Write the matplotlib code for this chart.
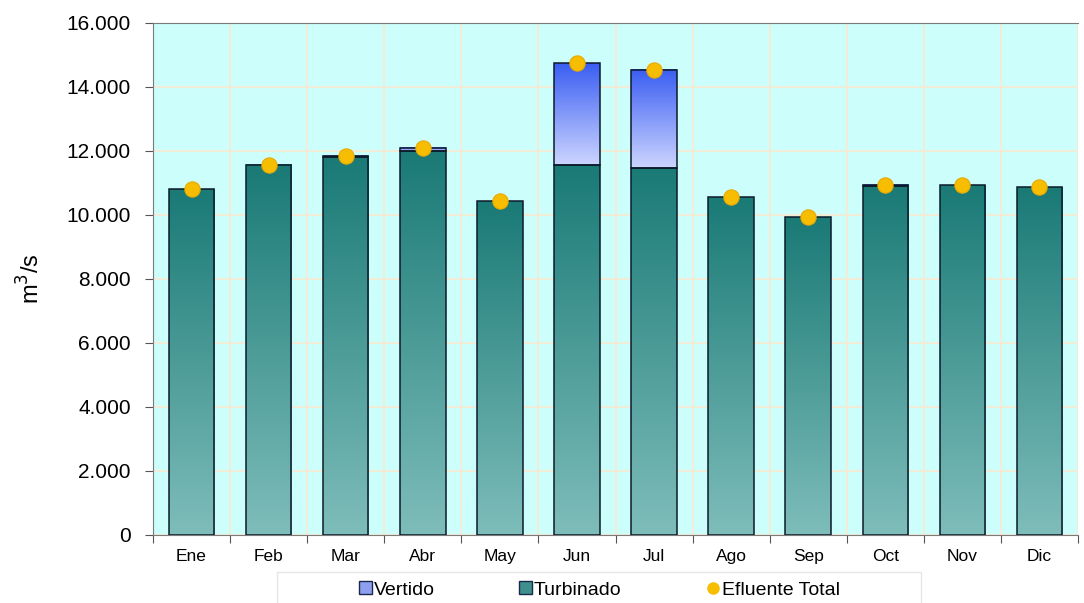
import matplotlib
matplotlib.use("Agg")
import matplotlib.pyplot as plt
import numpy as np
from matplotlib.colors import LinearSegmentedColormap
from matplotlib.patches import Rectangle, Patch
from matplotlib.lines import Line2D
from matplotlib.ticker import FuncFormatter, FixedLocator

plt.rcParams["font.family"] = ["Liberation Sans", "DejaVu Sans"]

months = ["Ene", "Feb", "Mar", "Abr", "May", "Jun", "Jul", "Ago", "Sep", "Oct", "Nov", "Dic"]
turbinado = [10800, 11570, 11800, 12000, 10430, 11570, 11470, 10560, 9930, 10900, 10930, 10870]
vertido = [0, 0, 50, 100, 0, 3180, 3070, 0, 0, 40, 0, 0]
efluente = [10800, 11570, 11850, 12100, 10430, 14750, 14540, 10560, 9930, 10940, 10930, 10870]

W, H = 1084, 603
fig = plt.figure(figsize=(W / 100, H / 100), dpi=100)
ax = fig.add_axes([153 / W, 68 / H, 925 / W, 512 / H])
ax.set_facecolor("#ccfffc")

turb_cmap = LinearSegmentedColormap.from_list("turb", ["#7ebdba", "#1a7a76"])
vert_cmap = LinearSegmentedColormap.from_list("vert", ["#cdd5ff", "#3a5ef2"])
grad = np.linspace(0, 1, 256).reshape(-1, 1)

x = np.arange(len(months))
w = 0.59
for i in x:
    b = 0
    for val, cmap in ((turbinado[i], turb_cmap), (vertido[i], vert_cmap)):
        if val <= 0:
            continue
        ax.imshow(grad, cmap=cmap, origin="lower", aspect="auto",
                  extent=[i - w / 2, i + w / 2, b, b + val], zorder=2,
                  interpolation="bilinear")
        ax.add_patch(Rectangle((i - w / 2, b), w, val, fill=False,
                               edgecolor="#0d1a2a", linewidth=1.1, zorder=3))
        b += val

ax.plot(x, efluente, linestyle="none", marker="o", markersize=11,
        markerfacecolor="#f7bd00", markeredgecolor="#eaa900", markeredgewidth=0.8, zorder=4)

ax.set_xlim(-0.5, len(months) - 0.5)
ax.set_ylim(0, 16000)
ax.set_yticks(np.arange(0, 16001, 2000))
ax.yaxis.set_major_formatter(FuncFormatter(lambda v, p: f"{int(v):,}".replace(",", ".")))
ax.tick_params(axis="y", labelsize=15, length=6, color="#555555", direction="out", pad=10)

ax.xaxis.set_major_locator(FixedLocator(np.arange(-0.5, len(months), 1)))
ax.xaxis.set_major_formatter(FuncFormatter(lambda v, p: ""))
ax.xaxis.set_minor_locator(FixedLocator(x))
ax.set_xticklabels(months, minor=True)
ax.tick_params(axis="x", which="major", length=6, color="#555555", direction="out")
ax.tick_params(axis="x", which="minor", length=0, labelsize=12.5, pad=10)

ax.grid(True, which="major", color="#f0ecd8", linewidth=1.5, zorder=1)
ax.set_axisbelow(True)
for s in ("left", "bottom", "top"):
    ax.spines[s].set_color("#7a7a7a")
ax.spines["right"].set_visible(False)

ax.set_ylabel("m$^3$/s", fontsize=17, labelpad=16)

# legend frame
fig.add_artist(Rectangle((277 / W, -0.01), (921 - 277) / W, (H - 572) / H + 0.01,
                         transform=fig.transFigure, facecolor="white",
                         edgecolor="#e6e6e6", linewidth=1.0, zorder=1))

handles = [Patch(facecolor="#8f9ff0", edgecolor="#1a2a4a", label="Vertido"),
           Patch(facecolor="#3f8f8c", edgecolor="#1a2a4a", label="Turbinado"),
           Line2D([], [], linestyle="none", marker="o", markersize=8,
                  markerfacecolor="#f7bd00", markeredgecolor="#f7bd00", label="Efluente Total")]
xpos = [359, 519, 707]
for h, xp in zip(handles, xpos):
    leg = fig.legend(handles=[h], loc="center left", bbox_to_anchor=(xp / W, (H - 590) / H),
                     fontsize=14, frameon=False, handlelength=0.65, handleheight=0.65,
                     handletextpad=0.1, borderaxespad=0, borderpad=0)
    leg.set_zorder(2)

fig.savefig("out.png", dpi=100)
